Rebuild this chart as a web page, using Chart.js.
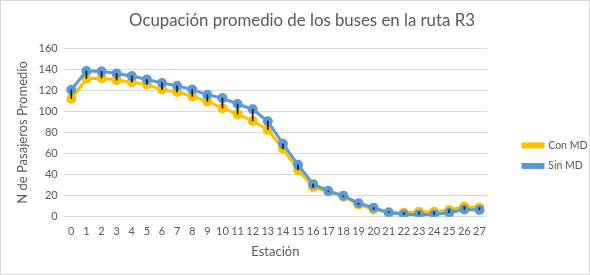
<!DOCTYPE html>
<html>
<head>
<meta charset="utf-8">
<script src="https://cdn.jsdelivr.net/npm/chart.js@4/dist/chart.umd.min.js"></script>
<style>
html,body{margin:0;padding:0;background:#fff;}
#wrap{width:590px;height:275px;box-sizing:border-box;border:1px solid #d9d9d9;position:relative;}
</style>
</head>
<body>
<div id="wrap"><canvas id="c"></canvas></div>
<script>
const estaciones = ['0','1','2','3','4','5','6','7','8','9','10','11','12','13','14','15','16','17','18','19','20','21','22','23','24','25','26','27'];
const conMD = [112,131,131.5,129.7,127.7,125.5,120.7,118.5,114.2,109.4,103,97.4,91,82.6,64.5,44.5,28,24,19,11.8,7,4.6,3.9,4.8,4.8,6.5,9.7,8.7];
const sinMD = [120.5,138.3,138,136,133.5,130.3,127,124.3,120.7,115.8,112.6,107,102,90.7,69.3,49.3,31,24.6,20,12.8,8.6,3.8,2.3,2.3,2.3,3.9,7,6.5];
const yTicks = [0,20,40,60,80,100,120,140,160];
const highLow = conMD.map((v, i) => [v, sinMD[i]]);

const fontFam = "Lato, 'Open Sans', sans-serif";
const grey = '#595959';

new Chart(document.getElementById('c'), {
  data: {
    labels: estaciones,
    datasets: [
      {type:'line', label:'Con MD', data:conMD, borderColor:'#FFC000', backgroundColor:'#FFC000',
       borderWidth:3, pointRadius:3.5, pointBackgroundColor:'#FFC000', pointBorderColor:'#FFC000', order:3, tension:0},
      {type:'line', label:'Sin MD', data:sinMD, borderColor:'#5B9BD5', backgroundColor:'#5B9BD5',
       borderWidth:3, pointRadius:3.5, pointBackgroundColor:'#5B9BD5', pointBorderColor:'#5B9BD5', order:2, tension:0},
      {type:'bar', label:'hl', data:highLow, backgroundColor:'#1a1a1a', barThickness:1, order:1}
    ]
  },
  options: {
    responsive:true, maintainAspectRatio:false, animation:false,
    layout:{padding:{left:14,right:0,top:6,bottom:16}},
    plugins:{
      title:{display:true, text:'Ocupación promedio de los buses en la ruta R3', color:grey,
        font:{family:fontFam, size:16.8, weight:'normal'}, padding:{top:4,bottom:17}},
      legend:{position:'right', align:'center', maxWidth:76,
        title:{display:true, text:' ', padding:16, font:{size:12}},
        labels:{color:grey, font:{family:fontFam, size:10.5}, boxWidth:20, boxHeight:3, padding:10,
          filter:(it)=>it.datasetIndex!==2, sort:(a,b)=>a.datasetIndex-b.datasetIndex}},
      tooltip:{enabled:false}
    },
    scales:{
      x:{grid:{display:false, drawTicks:false}, border:{display:false},
         ticks:{color:grey, font:{family:fontFam, size:11}, padding:8, maxRotation:0, autoSkip:false},
         title:{display:true, text:'Estación', color:grey, font:{family:fontFam, size:13, lineHeight:1}, padding:{top:-1,bottom:0}}},
      y:{min:0, max:160, afterBuildTicks:(ax)=>{ax.ticks = yTicks.map(v=>({value:v}));},
         grid:{color:'#d9d9d9', drawTicks:false}, border:{display:false},
         ticks:{color:grey, font:{family:fontFam, size:11}, padding:6},
         title:{display:true, text:'N de Pasajeros Promedio', color:grey, font:{family:fontFam, size:13}, padding:{top:0,bottom:2}}},
      y2:{type:'linear', position:'right', min:0, max:1, display:true,
         grid:{display:false, drawTicks:false}, border:{display:false}, ticks:{display:false},
         afterFit:(s)=>{s.width = 26;}}
    }
  }
});
</script>
</body>
</html>
